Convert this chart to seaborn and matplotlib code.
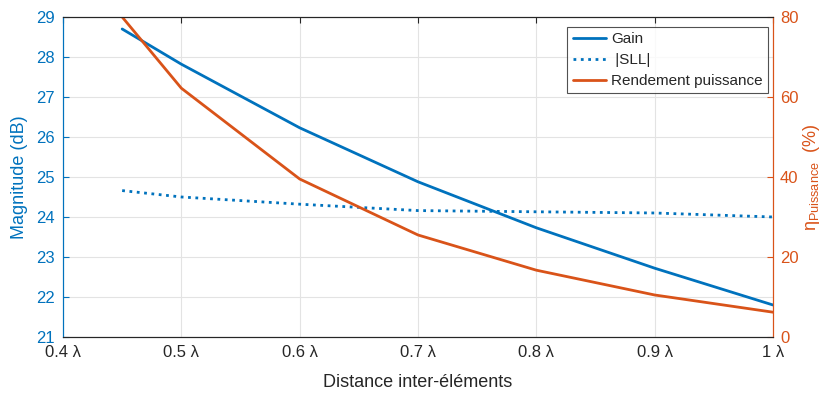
import numpy as np
import pandas as pd
import matplotlib
matplotlib.use("Agg")
import matplotlib.pyplot as plt
import seaborn as sns

# Données
distance = [0.45, 0.5, 0.6, 0.7, 0.8, 0.9, 1.0]
gain = [28.7, 27.82, 26.23, 24.88, 23.73, 22.72, 21.8]
sll = [24.66, 24.5, 24.32, 24.16, 24.13, 24.1, 24.0]
rendement = [80.0, 62.2, 39.5, 25.5, 16.7, 10.5, 6.2]
xticks = [0.4, 0.5, 0.6, 0.7, 0.8, 0.9, 1.0]
xtick_labels = ["0.4 λ", "0.5 λ", "0.6 λ", "0.7 λ", "0.8 λ", "0.9 λ", "1 λ"]

blue = "#0072BD"
orange = "#D95319"

sns.set_style("white")
plt.rcParams["font.family"] = ["Liberation Sans", "DejaVu Sans"]
plt.rcParams["mathtext.fontset"] = "custom"
plt.rcParams["mathtext.rm"] = "Liberation Sans"
plt.rcParams["mathtext.it"] = "Liberation Sans"

df = pd.DataFrame({"d": distance, "gain": gain, "sll": sll, "eta": rendement})

fig = plt.figure(figsize=(8.3, 3.94), dpi=100)
ax = fig.add_axes([0.0759, 0.1447, 0.8554, 0.8122])
ax2 = ax.twinx()

sns.lineplot(data=df, x="d", y="gain", ax=ax, color=blue, lw=2, label="Gain")
sns.lineplot(data=df, x="d", y="sll", ax=ax, color=blue, lw=2, ls=":", label=" |SLL|")
sns.lineplot(data=df, x="d", y="eta", ax=ax2, color=orange, lw=2, label="Rendement puissance")

ax.set_xlim(0.4, 1.0)
ax.set_ylim(21, 29)
ax2.set_ylim(0, 80)
ax.set_xticks(xticks)
ax.set_xticklabels(xtick_labels)
ax.set_yticks(range(21, 30))
ax2.set_yticks([0, 20, 40, 60, 80])

ax.grid(True, color="#e3e3e3", lw=0.8)
ax.set_axisbelow(True)

ax.set_xlabel("Distance inter-éléments", fontsize=13, color="#262626", labelpad=10)
ax.set_ylabel("Magnitude (dB)", fontsize=13, color=blue, labelpad=6)
ax2.set_ylabel(r"$\mathrm{η}_{\mathrm{Puissance}}$  (%)", fontsize=13, color=orange,
               labelpad=2)

ax.tick_params(axis="x", direction="in", length=4, labelsize=12, colors="#262626",
               top=True, labeltop=False, pad=6)
ax.tick_params(axis="y", direction="in", length=4, labelsize=12, colors=blue, pad=6)
ax2.tick_params(axis="y", direction="in", length=4, labelsize=12, colors=orange, pad=5)

for a in (ax, ax2):
    a.spines["top"].set_color("#262626")
    a.spines["bottom"].set_color("#262626")
    a.spines["left"].set_color(blue)
    a.spines["right"].set_color(orange)
    for s in a.spines.values():
        s.set_linewidth(0.8)

h1, l1 = ax.get_legend_handles_labels()
h2, l2 = ax2.get_legend_handles_labels()
ax.get_legend().remove()
ax2.get_legend().remove()
leg = ax2.legend(h1 + h2, l1 + l2, loc="upper right", fontsize=11, frameon=True,
                 fancybox=False, edgecolor="#262626", handlelength=2.2,
                 handletextpad=0.3, borderpad=0.35, labelspacing=0.45,
                 borderaxespad=0, bbox_to_anchor=(0.993, 0.969))
leg.get_frame().set_linewidth(0.8)

fig.savefig("out.png", dpi=100)
